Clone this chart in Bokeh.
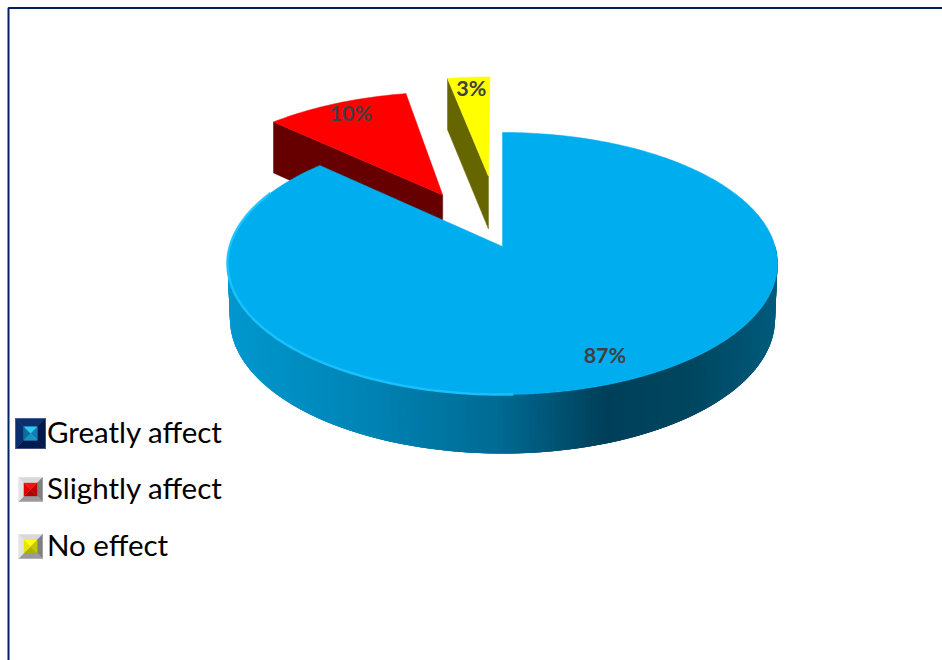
import math
from bokeh.embed import file_html
from bokeh.models import Range1d
from bokeh.plotting import figure
from bokeh.resources import INLINE

# Survey shares, in clockwise order from twelve o'clock
categories = ["Greatly affect", "Slightly affect", "No effect"]
shares = [87, 10, 3]
labels = ["87%", "10%", "3%"]
explode = [0.0, 0.48, 0.59]

top_colors = ["#00AEEF", "#FF0000", "#FFFF00"]
side_colors = ["#00405A", "#660000", "#666600"]
LABEL_COLOR = "#404040"
FRAME_COLOR = "#002060"

# Perspective of the pie disc, in page pixels
CX, APEX_Y = 502.0, 246.0
RADIUS = 272.7
TILT_A, TILT_C = -96.9, 0.1298
DEPTH_BACK, DEPTH_FRONT = 51.0, 59.0
FOOT_SHRINK = 0.991


def project(u, v, lowered=False):
    w = 1 + TILT_C * v
    x = CX + RADIUS * u / w
    y = (TILT_A * v + APEX_Y) / w
    if lowered:
        t = max(0.0, min(1.0, (v + 1) / 2))
        y += DEPTH_FRONT + (DEPTH_BACK - DEPTH_FRONT) * t
    return x, y


def rim(start, end, offset=(0.0, 0.0), lowered=False, steps=160):
    pts = []
    for i in range(steps + 1):
        a = math.radians(start + (end - start) * i / steps)
        pts.append(project(math.sin(a) + offset[0], math.cos(a) + offset[1], lowered))
    return pts


def mix(stops, x):
    if x <= stops[0][0]:
        return stops[0][1]
    for (x0, c0), (x1, c1) in zip(stops, stops[1:]):
        if x <= x1:
            t = (x - x0) / (x1 - x0)
            rgb = [round(int(c0[i:i + 2], 16) * (1 - t) + int(c1[i:i + 2], 16) * t) for i in (1, 3, 5)]
            return "#%02x%02x%02x" % tuple(rgb)
    return stops[-1][1]


p = figure(width=942, height=660, output_backend="svg", toolbar_location=None,
           x_range=Range1d(0, 942), y_range=Range1d(660, 0), min_border=0,
           outline_line_color=None, background_fill_color="white")
p.axis.visible = False
p.grid.visible = False

# Slice angles and explosion offsets
angles = []
running = 0.0
for s in shares:
    angles.append((running * 3.6, (running + s) * 3.6))
    running += s
offsets = []
for (a0, a1), e in zip(angles, explode):
    mid = math.radians((a0 + a1) / 2)
    offsets.append((e * math.sin(mid), e * math.cos(mid)))

# The exploded slices sit behind the big one: cut face first, then the top
for i in (2, 1):
    a0, a1 = angles[i]
    off = offsets[i]
    corner = math.radians(a0)
    cu, cv = math.sin(corner) + off[0], math.cos(corner) + off[1]
    quad = [project(cu, cv), project(off[0], off[1]),
            project(off[0], off[1], True), project(cu, cv, True)]
    p.patch([q[0] for q in quad], [q[1] for q in quad],
            fill_color=side_colors[i], line_color=side_colors[i], line_width=0.5)
    top = [project(off[0], off[1])] + rim(a0, a1, off, steps=40)
    p.patch([q[0] for q in top], [q[1] for q in top],
            fill_color=top_colors[i], line_color=top_colors[i], line_width=0.5)

# Front wall of the big slice, shaded across its width. Each strip runs on to
# the far side of the next one so that no seams show between them.
wall_stops = [(227, "#0098CE"), (370, "#0083B4"), (500, "#006A92"),
              (605, "#003F59"), (690, "#00465F"), (777, "#005B7C")]
upper = rim(270, 90, steps=220)
lower = [(CX + (x - CX) * FOOT_SHRINK, y) for x, y in rim(270, 90, lowered=True, steps=220)]
xs, ys, cols = [], [], []
for j in range(len(upper) - 1):
    k = min(j + 3, len(upper) - 1)
    xs.append([upper[j][0], upper[k][0], lower[k][0], lower[j][0]])
    ys.append([upper[j][1], upper[k][1], lower[k][1], lower[j][1]])
    cols.append(mix(wall_stops, (upper[j][0] + upper[j + 1][0]) / 2))
p.patches(xs, ys, fill_color=cols, line_color=None)

# Top of the big slice
a0, a1 = angles[0]
face = [project(0, 0)] + rim(a0, a1, steps=320)
p.patch([q[0] for q in face], [q[1] for q in face],
        fill_color=top_colors[0], line_color=top_colors[0], line_width=0.5)

# Bright bevel along the near edge
edge = rim(178, 296, steps=120)
p.line([q[0] for q in edge], [q[1] for q in edge], line_color="#1CC3FF", line_width=2.5, line_alpha=0.9)

# Percentage labels, placed along each slice's bisector
LABEL_LIFT = 3
for i, text in enumerate(labels):
    mid = math.radians(sum(angles[i]) / 2)
    x, y = project(0.85 * math.sin(mid) + offsets[i][0], 0.85 * math.cos(mid) + offsets[i][1])
    p.text([x], [y - LABEL_LIFT], text=[text], text_color=LABEL_COLOR, text_font_size="21.5px",
           text_font_style="bold", text_align="center", text_baseline="middle",
           text_font={"value": "Lato"})

# Legend: bevelled key next to each name
legend_x, text_y, key_y = 46.5, [430.5, 487, 543.5], [433, 489, 546]
key_faces = [
    ("#0A2F6E", "#0A2F6E", "#00184A", "#001A50", ["#2CCBF2", "#0E7FB0", "#1296C8", "#0B6E9C"], 15, 0.45),
    ("#D8D8D8", "#E4E4E4", "#808080", "#9A9A9A", ["#FF1010", "#C00000", "#B00000", "#E00000"], 12, 0.55),
    ("#D8D8D8", "#E4E4E4", "#808080", "#9A9A9A", ["#FFFF10", "#C8C800", "#B0B000", "#E6E600"], 12, 0.55),
]
for name, ty, cy, (top, left, right, bottom, inner, half, ratio) in zip(categories, text_y, key_y, key_faces):
    kx = 30
    inset = half * ratio
    outer = [(kx - half, cy - half), (kx + half, cy - half), (kx + half, cy + half), (kx - half, cy + half)]
    core = [(kx - inset, cy - inset), (kx + inset, cy - inset), (kx + inset, cy + inset), (kx - inset, cy + inset)]
    for k, col in zip(range(4), (top, right, bottom, left)):
        pts = [outer[k], outer[(k + 1) % 4], core[(k + 1) % 4], core[k]]
        p.patch([q[0] for q in pts], [q[1] for q in pts], fill_color=col, line_color=col, line_width=0.5)
    for k, col in zip(range(4), inner):
        pts = [core[k], core[(k + 1) % 4], (kx, cy)]
        p.patch([q[0] for q in pts], [q[1] for q in pts], fill_color=col, line_color=col, line_width=0.3)
    p.text([legend_x], [ty], text=[name], text_color="#000000", text_font_size="29.5px",
           text_align="left", text_baseline="middle", text_font={"value": "Lato"})

# Page frame: top and left rules only
p.line([8, 8, 942], [660, 7.5, 7.5], line_color=FRAME_COLOR, line_width=2)

open("out.html", "w").write(file_html(p, INLINE))
